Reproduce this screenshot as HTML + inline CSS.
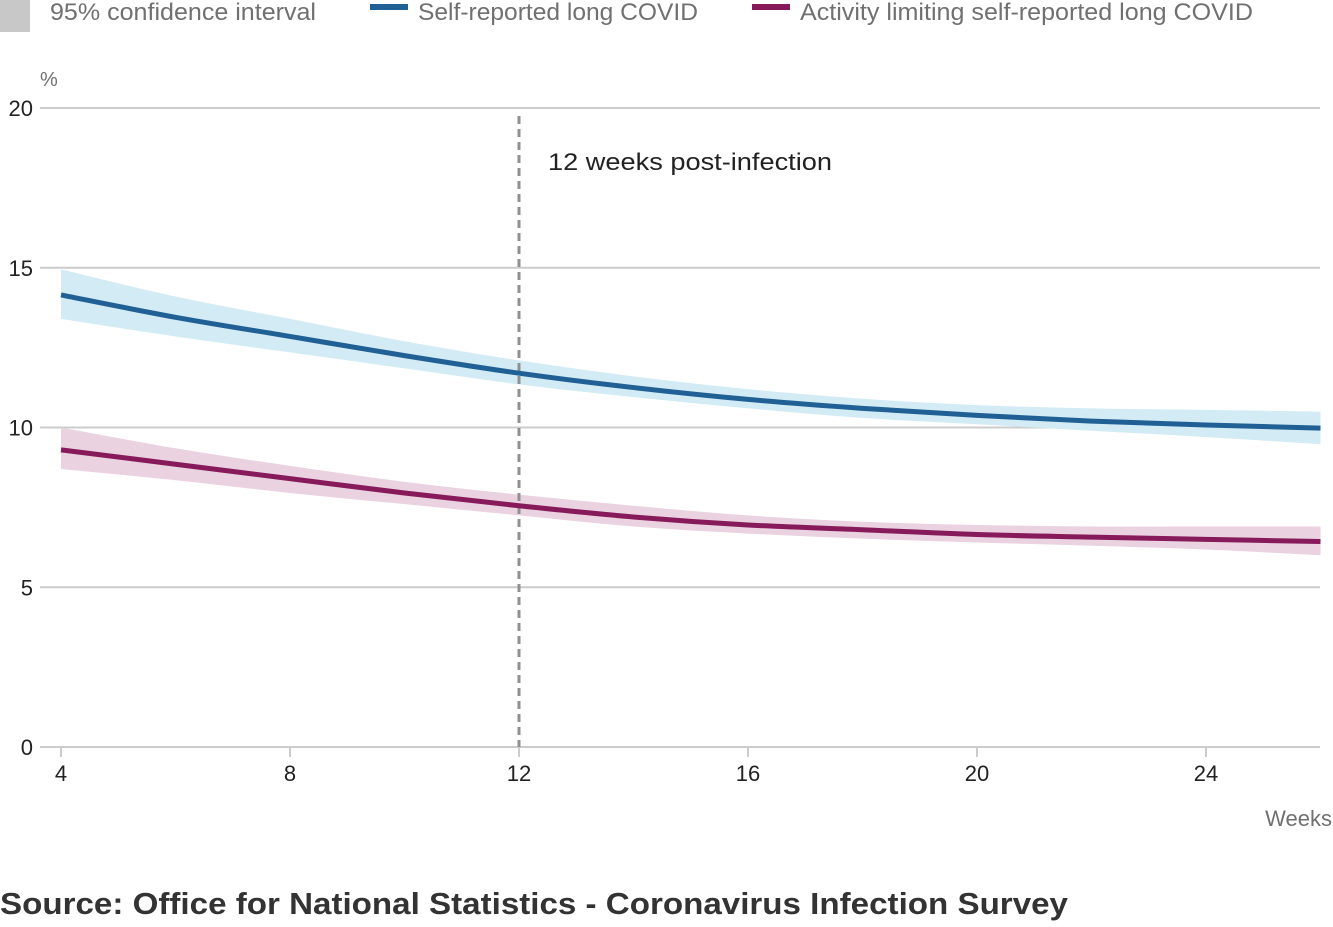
<!DOCTYPE html>
<html><head><meta charset="utf-8"><style>
body{margin:0;background:#fff;width:1333px;height:922px;overflow:hidden;font-family:"Liberation Sans",sans-serif}
svg text{font-family:"Liberation Sans",sans-serif}
</style></head><body>
<svg id="chart" width="1333" height="922">
<g>
<rect x="0" y="0" width="30" height="32" fill="#c8c8c8"/>
<text x="50" y="20" font-size="24" fill="#707070" textLength="266" lengthAdjust="spacingAndGlyphs">95% confidence interval</text>
<rect x="370" y="4" width="38" height="6" fill="#206095"/>
<text x="418" y="20" font-size="24" fill="#707070" textLength="280" lengthAdjust="spacingAndGlyphs">Self-reported long COVID</text>
<rect x="752" y="4" width="38" height="6" fill="#871a5b"/>
<text x="800" y="20" font-size="24" fill="#707070" textLength="453" lengthAdjust="spacingAndGlyphs">Activity limiting self-reported long COVID</text>
</g>
<text x="40" y="86" font-size="20" fill="#707070">%</text>
<g id="grid"></g><g id="marks"></g>
<text x="1332" y="826" font-size="22" fill="#707070" text-anchor="end">Weeks</text>
<text x="0" y="914" font-size="31" font-weight="bold" fill="#333" textLength="1068" lengthAdjust="spacingAndGlyphs">Source: Office for National Statistics - Coronavirus Infection Survey</text>
</svg>
<script>
const weeks=[4,6,8,10,12,14,16,18,20,22,24,26];
const selfMid=[14.15,13.45,12.85,12.25,11.7,11.25,10.88,10.6,10.38,10.2,10.08,9.98];
const selfUpper=[14.95,14.1,13.4,12.7,12.1,11.6,11.2,10.9,10.7,10.6,10.55,10.5];
const selfLower=[13.4,12.85,12.35,11.85,11.35,10.95,10.6,10.3,10.1,9.9,9.7,9.48];
const actMid=[9.3,8.85,8.4,7.95,7.55,7.2,6.95,6.8,6.65,6.57,6.5,6.43];
const actUpper=[10.0,9.35,8.8,8.3,7.9,7.55,7.25,7.05,6.95,6.9,6.9,6.9];
const actLower=[8.7,8.35,7.95,7.6,7.25,6.9,6.68,6.52,6.4,6.3,6.18,6.0];
const yTicks=[0,5,10,15,20];
const xTicks=[4,8,12,16,20,24];
const refWeek=12;
const NS="http://www.w3.org/2000/svg";
const x=w=>61+(w-4)*57.25;
const y=v=>747-v*31.95;
const grid=document.getElementById('grid'),marks=document.getElementById('marks');
function mk(t,a,p){const e=document.createElementNS(NS,t);for(const k in a)e.setAttribute(k,a[k]);p.appendChild(e);return e;}
yTicks.forEach(v=>{
 const l=mk('line',{x1:40,x2:1320,y1:y(v),y2:y(v),stroke:'#cccccc','stroke-width':2},grid);
 
 
 const t=mk('text',{x:33,y:y(v)+8,'font-size':22,'text-anchor':'end',fill:'#222'},grid);t.textContent=v;
 
 
});
xTicks.forEach(w=>{
 const l=mk('line',{x1:x(w),x2:x(w),y1:y(0),y2:y(0)+10,stroke:'#cccccc','stroke-width':2},grid);
 
 
 const t=mk('text',{x:x(w),y:781,'font-size':22,'text-anchor':'middle',fill:'#222'},grid);t.textContent=w;
 
 
});
function path(pts){
 let d='M'+pts[0][0]+','+pts[0][1];
 for(let i=0;i<pts.length-1;i++){const p0=pts[i-1]||pts[i],p1=pts[i],p2=pts[i+1],p3=pts[i+2]||p2;
 d+=' C'+(p1[0]+(p2[0]-p0[0])/6)+','+(p1[1]+(p2[1]-p0[1])/6)+' '+(p2[0]-(p3[0]-p1[0])/6)+','+(p2[1]-(p3[1]-p1[1])/6)+' '+p2[0]+','+p2[1];}
 return d;}
function band(up,lo,fill,name){
 const a=weeks.map((w,i)=>[x(w),y(up[i])]);const b=weeks.map((w,i)=>[x(w),y(lo[i])]).reverse();
 const e=mk('path',{d:path(a)+' L'+path(b).slice(1)+' Z',fill:fill},marks);
 
 
}
function line(v,c,name){const e=mk('path',{d:path(weeks.map((w,i)=>[x(w),y(v[i])])),fill:'none',stroke:c,'stroke-width':5},marks);
 
 }
band(selfUpper,selfLower,'#d2ebf5','self-reported-ci-band');
band(actUpper,actLower,'#ead2e0','activity-limiting-ci-band');
const r=mk('line',{x1:x(refWeek),x2:x(refWeek),y1:116,y2:y(0),stroke:'#909090','stroke-width':3,'stroke-dasharray':'8,5'},marks);


const rt=mk('text',{x:x(refWeek)+29,y:170,'font-size':24,fill:'#222',textLength:284,lengthAdjust:'spacingAndGlyphs'},marks);rt.textContent='12 weeks post-infection';


line(selfMid,'#206095','self-reported-line');
line(actMid,'#871a5b','activity-limiting-line');
</script>
</body></html>
